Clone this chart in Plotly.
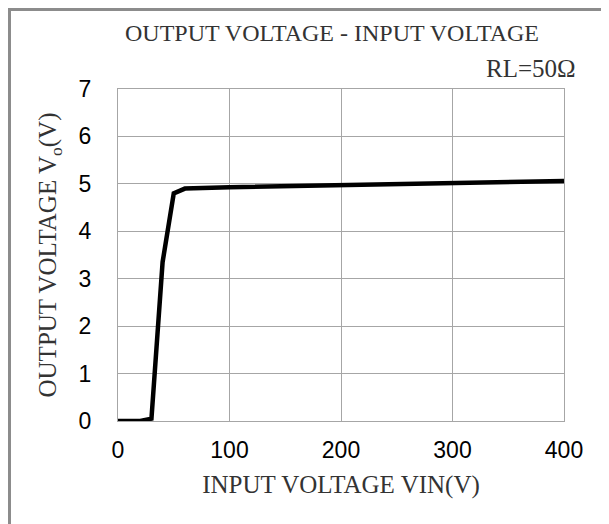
import plotly.graph_objects as go

# data
vin = [0, 20, 30, 40, 50, 60, 100, 150, 200, 300, 400]
vout = [0, 0, 0.05, 3.35, 4.8, 4.9, 4.93, 4.95, 4.98, 5.02, 5.06]

x_ticks = [0, 100, 200, 300, 400]
y_ticks = [0, 1, 2, 3, 4, 5, 6, 7]

# the page body keeps its default 8px margin, so the figure is 8px smaller
W, H = 601, 516
L, R, T, B = 110, 45, 81, 103
pw, ph = W - L - R, H - T - B

SERIF = "Liberation Serif, Times New Roman, serif"
SANS = "Liberation Sans, Arial, sans-serif"
GRID = "#a6a6a6"
TXT = "#333333"


def px_x(p):
    return (p - L) / pw


def px_y(p):
    return (H - B - p) / ph


fig = go.Figure(
    go.Scatter(
        x=vin,
        y=vout,
        mode="lines",
        line=dict(color="black", width=4.5),
        hoverinfo="skip",
    )
)

fig.update_layout(
    width=W,
    height=H,
    margin=dict(l=L, r=R, t=T, b=B),
    paper_bgcolor="white",
    plot_bgcolor="white",
    showlegend=False,
    font=dict(family=SANS, color="black"),
    title=dict(
        text="OUTPUT VOLTAGE - INPUT VOLTAGE",
        font=dict(family=SERIF, size=24, color=TXT),
        x=px_x(324), xref="paper", xanchor="center",
        y=1 - 25 / H, yanchor="middle",
    ),
)

fig.update_xaxes(
    range=[0, 400],
    tickvals=x_ticks,
    tickfont=dict(size=23, family=SANS, color="black"),
    showgrid=True, gridcolor=GRID, gridwidth=1,
    showline=True, linecolor=GRID, mirror=True,
    zeroline=False, ticks="", ticklabelstandoff=8,
    title=dict(text="INPUT VOLTAGE VIN(V)", font=dict(family=SERIF, size=25, color=TXT), standoff=13),
)
fig.update_yaxes(
    range=[0, 7],
    tickvals=y_ticks,
    tickfont=dict(size=23, family=SANS, color="black"),
    showgrid=True, gridcolor=GRID, gridwidth=1,
    showline=True, linecolor=GRID, mirror=True,
    zeroline=False, ticks="", ticklabelstandoff=21,
    title=dict(text="OUTPUT VOLTAGE V<sub>o</sub>(V)", font=dict(family=SERIF, size=25, color=TXT), standoff=14),
)

fig.add_annotation(
    text="RL=50Ω", xref="paper", yref="paper",
    x=px_x(570), y=px_y(61), xanchor="right", yanchor="middle",
    showarrow=False, font=dict(family=SERIF, size=25, color=TXT),
)

# outer frame around the whole picture (bottom edge runs off the page)
fig.add_shape(
    type="rect", xref="paper", yref="paper",
    x0=px_x(1.5), x1=px_x(595), y0=px_y(H + 20), y1=px_y(1.5),
    line=dict(color="#8c8c8c", width=3), fillcolor="rgba(0,0,0,0)", layer="below",
)

fig.write_html("out.html")
